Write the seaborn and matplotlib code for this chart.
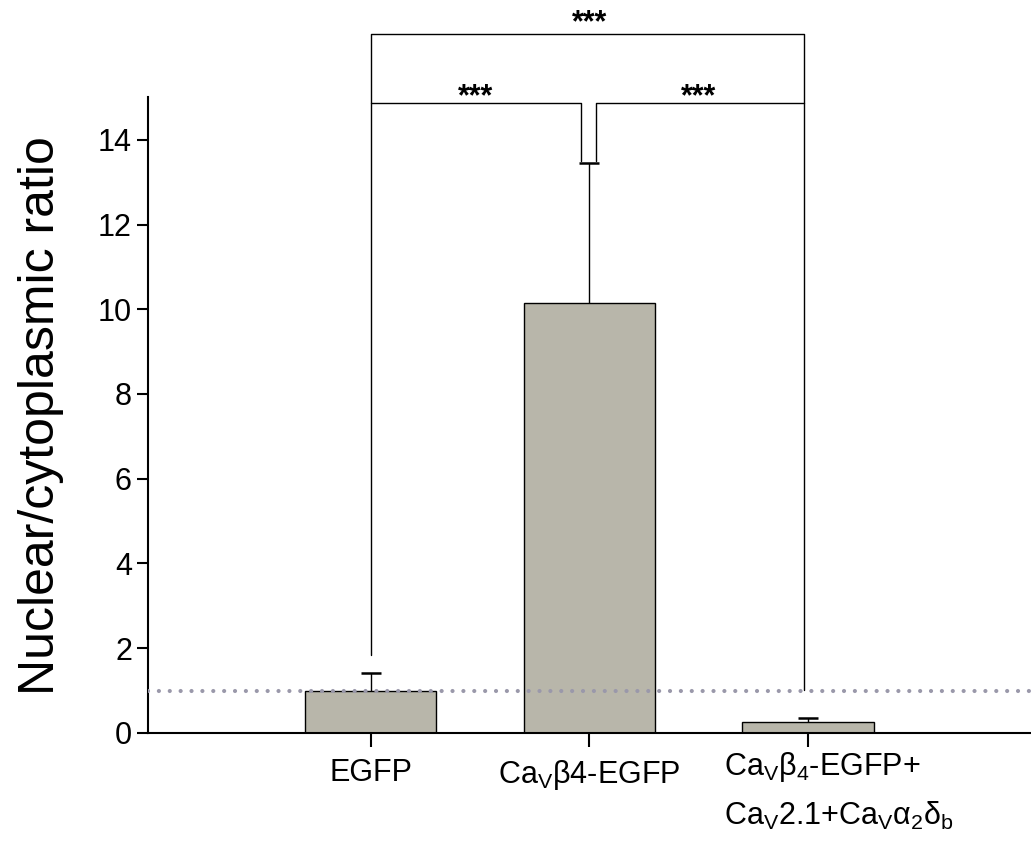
import pandas as pd
import seaborn as sns
import matplotlib.pyplot as plt

# values
groups = ["EGFP", "CaVb4-EGFP", "CaVb4-EGFP+CaV2.1+CaVa2db"]
means = [0.98, 10.15, 0.25]
errs = [0.44, 3.3, 0.10]
tick_labels = [r"EGFP", r"Ca$_V\beta$4-EGFP", ""]
third_label = [r"Ca$_V\beta_4$-EGFP+", r"Ca$_V$2.1+Ca$_V\alpha_2\delta_b$"]

sns.set_style("ticks")
plt.rcParams["font.family"] = ["Liberation Sans", "DejaVu Sans"]
plt.rcParams["mathtext.fontset"] = "custom"
plt.rcParams["mathtext.rm"] = "Liberation Sans"
plt.rcParams["mathtext.it"] = "Liberation Sans"
plt.rcParams["mathtext.default"] = "regular"
plt.rcParams["text.color"] = "black"
plt.rcParams["axes.labelcolor"] = "black"
plt.rcParams["xtick.color"] = "black"
plt.rcParams["ytick.color"] = "black"
plt.rcParams["axes.edgecolor"] = "black"

df = pd.DataFrame({"group": groups, "ratio": means})

fig = plt.figure(figsize=(10.31, 8.52), dpi=100)
ax = fig.add_axes([0.1435, 0.1397, 0.8565, 0.746])

sns.barplot(data=df, x="group", y="ratio", color="#b8b6aa", saturation=1,
            width=0.6, edgecolor="black", linewidth=1, errorbar=None, ax=ax)
eb = ax.errorbar(range(len(means)), means, yerr=[[0] * len(errs), errs], fmt="none",
                 ecolor="black", elinewidth=1, capsize=7, capthick=1.8)
eb[1][0].set_visible(False)  # only the upper cap

# reference line at ratio = 1
ax.axhline(1, color="#9a98aa", lw=3.0, ls=(0, (0.01, 2.6)),
           dash_capstyle="round", zorder=5)

ax.set_xlim(-1.02, 3.02)
ax.set_ylim(0, 15)
ax.set_yticks([0, 2, 4, 6, 8, 10, 12, 14])
ax.set_xticks(range(3))
ax.set_xticklabels(tick_labels, fontsize=22)
ax.tick_params(axis="y", labelsize=22, length=8, width=1.5, direction="out")
ax.tick_params(axis="x", length=10, width=1.5, direction="out", pad=8)
ax.set_xlabel("")
ax.set_ylabel("Nuclear/cytoplasmic ratio", fontsize=36)
ax.yaxis.set_label_coords(-0.095, 0.5)
sns.despine(ax=ax)
ax.spines["left"].set_linewidth(1.5)
ax.spines["bottom"].set_linewidth(1.5)

ax.text(1.615, -0.027, third_label[0], transform=ax.get_xaxis_transform(),
        ha="left", va="top", fontsize=22)
ax.text(1.615, -0.105, third_label[1], transform=ax.get_xaxis_transform(),
        ha="left", va="top", fontsize=22)

# significance brackets
bk = dict(color="black", lw=1.0, clip_on=False)
ax.plot([0, 0, 0.96, 0.96], [1.84, 14.87, 14.87, 13.5], **bk)
ax.plot([1.03, 1.03, 1.98, 1.98], [13.5, 14.87, 14.87, 1.02], **bk)
ax.plot([0, 0, 1.98, 1.98], [14.87, 16.5, 16.5, 14.87], **bk)
star = dict(ha="center", va="center", fontsize=22, fontweight="bold", clip_on=False)
ax.text(0.48, 15.0, "***", **star)
ax.text(1.5, 15.0, "***", **star)
ax.text(1.0, 16.75, "***", **star)

fig.savefig("out.png", dpi=100)
